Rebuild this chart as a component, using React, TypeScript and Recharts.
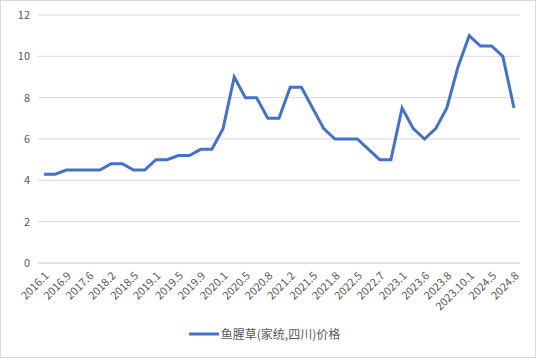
import React from 'react';
import { LineChart, Line, XAxis, YAxis, CartesianGrid, Legend } from 'recharts';

// every other month label is printed on the axis
const tickLabels = [
  '2016.1', '2016.9', '2017.6', '2018.2', '2018.5', '2019.1', '2019.5', '2019.9',
  '2020.1', '2020.5', '2020.8', '2021.2', '2021.5', '2021.8', '2022.5', '2022.7',
  '2023.1', '2023.6', '2023.8', '2023.10.1', '2024.5', '2024.8',
];

const prices = [
  4.3, 4.3, 4.5, 4.5, 4.5, 4.5, 4.8, 4.8, 4.5, 4.5, 5.0, 5.0, 5.2, 5.2, 5.5, 5.5,
  6.5, 9.0, 8.0, 8.0, 7.0, 7.0, 8.5, 8.5, 7.5, 6.5, 6.0, 6.0, 6.0, 5.5, 5.0, 5.0,
  7.5, 6.5, 6.0, 6.5, 7.5, 9.5, 11.0, 10.5, 10.5, 10.0, 7.5,
];

const yTicks = [0, 2, 4, 6, 8, 10, 12];

const seriesName = '鱼腥草(家统,四川)价格';

const data = prices.map((v, i) => ({
  name: i % 2 === 0 ? tickLabels[i / 2] : '',
  price: v,
}));

const font = '"Noto Sans CJK SC", "Noto Sans", sans-serif';

const LegendContent = () => (
  <div style={{ display: 'flex', justifyContent: 'center', alignItems: 'center', fontFamily: font, fontSize: 12, color: '#595959' }}>
    <svg width={30} height={6} style={{ marginRight: 2 }}>
      <line x1={0} y1={3} x2={30} y2={3} stroke="#4472C4" strokeWidth={3} />
    </svg>
    <span>{seriesName}</span>
  </div>
);

const App: React.FC = () => {
  return (
    <div style={{ position: 'fixed', left: 0, top: 0, width: 534, height: 356, border: '1px solid #d9d9d9', background: '#fff' }}>
      <LineChart width={534} height={356} data={data} margin={{ top: 14, right: 15, left: 8, bottom: 8 }}>
        <CartesianGrid vertical={false} stroke="#d9d9d9" />
        <XAxis
          dataKey="name"
          interval={0}
          padding={{ left: 6, right: 6 }}
          tickLine={false}
          axisLine={{ stroke: '#d9d9d9' }}
          angle={-45}
          textAnchor="end"
          height={62}
          tick={{ fill: '#595959', fontSize: 11, fontFamily: font }}
        />
        <YAxis
          width={29}
          domain={[0, 12]}
          ticks={yTicks}
          tickLine={false}
          axisLine={false}
          tick={{ fill: '#595959', fontSize: 11, fontFamily: font }}
        />
        <Legend verticalAlign="bottom" height={24} content={<LegendContent />} />
        <Line
          type="linear"
          dataKey="price"
          name={seriesName}
          stroke="#4472C4"
          strokeWidth={3}
          dot={false}
          isAnimationActive={false}
        />
      </LineChart>
    </div>
  );
};

export default App;
